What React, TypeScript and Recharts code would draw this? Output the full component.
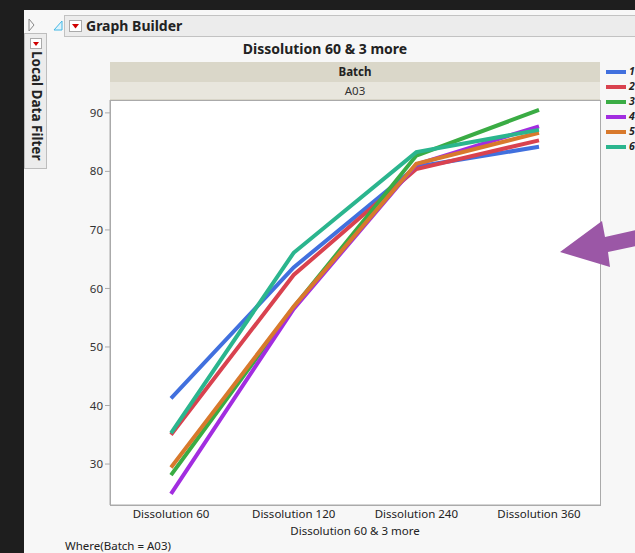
import React from "react";
import { LineChart, Line, XAxis, YAxis } from "recharts";

// values, one list per batch
const categories = ["Dissolution 60", "Dissolution 120", "Dissolution 240", "Dissolution 360"];
const batch1 = [41.2, 63.6, 80.8, 84.2];
const batch2 = [35.0, 62.3, 80.4, 85.3];
const batch3 = [28.1, 56.8, 82.7, 90.5];
const batch4 = [24.9, 56.5, 81.2, 87.7];
const batch5 = [29.4, 56.9, 81.3, 86.6];
const batch6 = [35.3, 66.1, 83.3, 87.1];
const seriesNames = ["1", "2", "3", "4", "5", "6"];
const seriesColors = ["#4170de", "#d9424f", "#3aac44", "#a22de0", "#d8792c", "#2bb58e"];
const yTicks = [30, 40, 50, 60, 70, 80, 90];

const allSeries = [batch1, batch2, batch3, batch4, batch5, batch6];
const chartData = categories.map((c, i) => {
  const row: Record<string, number | string> = { name: c };
  seriesNames.forEach((s, k) => {
    row["b" + s] = allSeries[k][i];
  });
  return row;
});

const FONT = "'Noto Sans', 'Open Sans', sans-serif";
const PLOT = { left: 110, top: 100, right: 600, bottom: 505 };

export default function App() {
  return (
    <div
      style={{
        position: "absolute",
        left: 0,
        top: 0,
        width: 635,
        height: 553,
        overflow: "hidden",
        background: "#1e1e1e",
        fontFamily: FONT,
        color: "#222",
      }}
    >
      {/* window panel */}
      <div style={{ position: "absolute", left: 24, top: 10, width: 611, height: 543, background: "#f7f7f7" }} />

      {/* small icons in the top strip */}
      <svg width={635} height={60} style={{ position: "absolute", left: 0, top: 0 }}>
        <polygon points="29,19 34,25 29,31" fill="none" stroke="#888" strokeWidth={1} />
        <polygon points="54,30 62,21 62,30" fill="#dff3fb" stroke="#43b8e6" strokeWidth={1} />
        <rect x={627.5} y={19.5} width={10} height={13} fill="none" stroke="#999" />
      </svg>

      {/* Local Data Filter tab */}
      <div
        style={{
          position: "absolute",
          left: 24,
          top: 33,
          width: 23,
          height: 136,
          background: "#ececec",
          border: "1px solid #bdbdbd",
          boxSizing: "border-box",
        }}
      >
        <div
          style={{
            position: "absolute",
            left: 5,
            top: 4,
            width: 12,
            height: 11,
            background: "#fff",
            border: "1px solid #aaa",
            boxSizing: "border-box",
          }}
        >
          <svg width={10} height={9} style={{ position: "absolute", left: 0, top: 0 }}>
            <polygon points="2,3 8,3 5,7" fill="#d00000" />
          </svg>
        </div>
        <div
          style={{
            position: "absolute",
            left: 21,
            top: 17,
            transform: "rotate(90deg)",
            transformOrigin: "0 0",
            whiteSpace: "nowrap",
            fontWeight: 700,
            fontSize: 13.5,
            lineHeight: "18px",
          }}
        >
          Local Data Filter
        </div>
      </div>

      {/* Graph Builder header */}
      <div
        style={{
          position: "absolute",
          left: 64,
          top: 15,
          width: 600,
          height: 22,
          background: "#ececec",
          border: "1px solid #c2c2c2",
          boxSizing: "border-box",
        }}
      >
        <div
          style={{
            position: "absolute",
            left: 4,
            top: 4,
            width: 13,
            height: 12,
            background: "#fff",
            border: "1px solid #aaa",
            boxSizing: "border-box",
          }}
        >
          <svg width={11} height={10} style={{ position: "absolute", left: 0, top: 0 }}>
            <polygon points="2,3 9,3 5.5,7.5" fill="#d00000" />
          </svg>
        </div>
        <div style={{ position: "absolute", left: 21, top: 0, fontWeight: 700, fontSize: 14, lineHeight: "20px", whiteSpace: "nowrap" }}>
          Graph Builder
        </div>
      </div>

      {/* chart title */}
      <div
        style={{
          position: "absolute",
          left: 125,
          width: 400,
          top: 39,
          textAlign: "center",
          fontWeight: 700,
          fontSize: 14,
          lineHeight: "20px",
        }}
      >
        Dissolution 60 &amp; 3 more
      </div>

      {/* group header bands */}
      <div
        style={{
          position: "absolute",
          left: PLOT.left,
          top: 62,
          width: PLOT.right - PLOT.left,
          height: 20,
          background: "#dad7c9",
          textAlign: "center",
          fontWeight: 700,
          fontSize: 11.5,
          lineHeight: "20px",
        }}
      >
        Batch
      </div>
      <div
        style={{
          position: "absolute",
          left: PLOT.left,
          top: 82,
          width: PLOT.right - PLOT.left,
          height: 17,
          background: "#e8e6dd",
          borderBottom: "1px solid #d8d5c8",
          textAlign: "center",
          fontSize: 11.5,
          lineHeight: "17px",
          color: "#333",
        }}
      >
        A03
      </div>

      {/* plot frame */}
      <div
        style={{
          position: "absolute",
          left: PLOT.left,
          top: PLOT.top,
          width: PLOT.right - PLOT.left + 1,
          height: PLOT.bottom - PLOT.top + 1,
          background: "#ffffff",
          border: "1px solid #aaaaaa",
          boxSizing: "border-box",
        }}
      />

      <div style={{ position: "absolute", left: 0, top: 0 }}>
        <LineChart
          width={635}
          height={553}
          data={chartData}
          margin={{ top: PLOT.top, right: 635 - PLOT.right, bottom: 0, left: 0 }}
        >
          <XAxis
            dataKey="name"
            height={553 - PLOT.bottom}
            padding={{ left: 61, right: 61 }}
            axisLine={{ stroke: "#aaaaaa" }}
            tickLine={false}
            tickSize={0}
            tickMargin={5}
            tick={{ fill: "#222", fontSize: 11.5, fontFamily: FONT }}
            interval={0}
          />
          <YAxis
            width={PLOT.left}
            domain={[23, 92.2]}
            ticks={yTicks}
            allowDataOverflow
            axisLine={{ stroke: "#aaaaaa" }}
            tickLine={{ stroke: "#aaaaaa" }}
            tickSize={5}
            tickMargin={2}
            tick={{ fill: "#333", fontSize: 11.5, fontFamily: FONT }}
          />
          {seriesNames.map((s, k) => (
            <Line
              key={s}
              type="linear"
              dataKey={"b" + s}
              stroke={seriesColors[k]}
              strokeWidth={4}
              dot={false}
              activeDot={false}
              isAnimationActive={false}
            />
          ))}
        </LineChart>
      </div>

      {/* x axis title */}
      <div
        style={{
          position: "absolute",
          left: PLOT.left,
          width: PLOT.right - PLOT.left,
          top: 523,
          textAlign: "center",
          fontSize: 11.5,
          lineHeight: "16px",
        }}
      >
        Dissolution 60 &amp; 3 more
      </div>

      {/* where clause */}
      <div style={{ position: "absolute", left: 65, top: 539, fontSize: 11.5, lineHeight: "14px", whiteSpace: "nowrap" }}>
        Where(Batch = A03)
      </div>

      {/* legend */}
      {seriesNames.map((s, k) => (
        <div key={s} style={{ position: "absolute", left: 606, top: 65 + k * 15, width: 29, height: 13, whiteSpace: "nowrap" }}>
          <div style={{ position: "absolute", left: 0, top: 5, width: 20, height: 4, background: seriesColors[k] }} />
          <div style={{ position: "absolute", left: 23, top: 0, fontSize: 10.5, fontWeight: 700, fontStyle: "italic", lineHeight: "13px" }}>
            {s}
          </div>
        </div>
      ))}

      {/* purple annotation arrow */}
      <svg width={635} height={553} style={{ position: "absolute", left: 0, top: 0, pointerEvents: "none" }}>
        <polygon
          points="560,252 602,221 605,237 636,230 636,246 608,252 610,267"
          fill="#9b57a6"
        />
      </svg>
    </div>
  );
}
